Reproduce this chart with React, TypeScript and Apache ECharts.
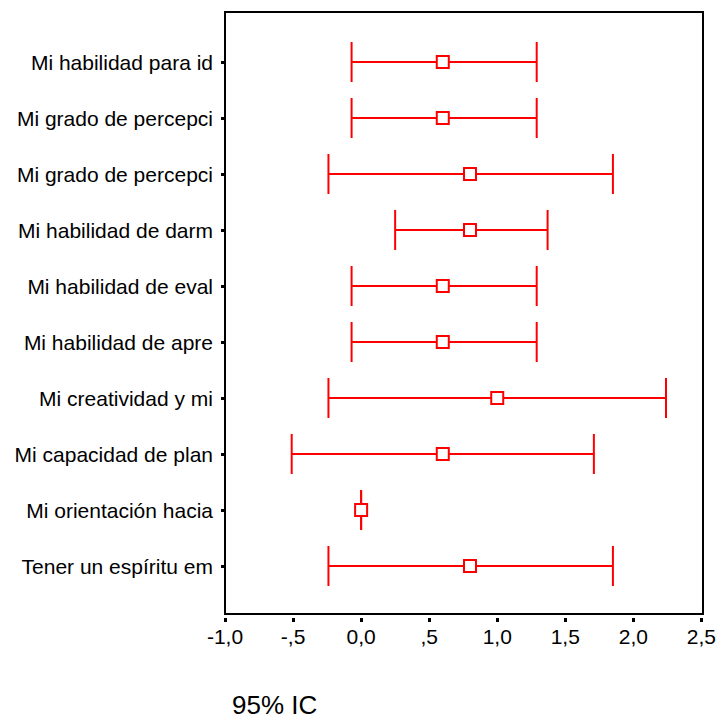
import React, { useEffect, useRef } from "react";
import * as echarts from "echarts";

const categories = [
  "Mi habilidad para id",
  "Mi grado de percepci",
  "Mi grado de percepci",
  "Mi habilidad de darm",
  "Mi habilidad de eval",
  "Mi habilidad de apre",
  "Mi creatividad y mi",
  "Mi capacidad de plan",
  "Mi orientación hacia",
  "Tener un espíritu em",
];
const lowValues = [-0.07, -0.07, -0.24, 0.25, -0.07, -0.07, -0.24, -0.51, 0.0, -0.24];
const meanValues = [0.6, 0.6, 0.8, 0.8, 0.6, 0.6, 1.0, 0.6, 0.0, 0.8];
const highValues = [1.29, 1.29, 1.85, 1.37, 1.29, 1.29, 2.24, 1.71, 0.0, 1.85];
const xTickValues = [-1, -0.5, 0, 0.5, 1, 1.5, 2, 2.5];
const xTickLabels = ["-1,0", "-,5", "0,0", ",5", "1,0", "1,5", "2,0", "2,5"];
const titleText = "95% IC";

const FONT = "'Liberation Sans', Arial, sans-serif";

export default function App() {
  const ref = useRef<HTMLDivElement>(null);
  useEffect(() => {
    if (!ref.current) return;
    const chart = echarts.init(ref.current, undefined, { renderer: "svg" });
    const data = categories.map((_, i) => [i, lowValues[i], meanValues[i], highValues[i]]);
    const red = "#ff0000";
    chart.setOption({
      animation: false,
      backgroundColor: "#ffffff",
      title: {
        text: titleText,
        left: 227,
        top: 687,
        textStyle: { fontFamily: FONT, fontSize: 26, fontWeight: "normal", color: "#000" },
      },
      grid: { left: 225, right: 16, top: 34, bottom: 125, containLabel: false },
      xAxis: {
        type: "value",
        min: -1,
        max: 2.5,
        interval: 0.5,
        offset: 24,
        splitLine: { show: false },
        axisLine: { show: false, onZero: false },
        axisTick: { show: true, length: 4, lineStyle: { color: "#000", width: 3 } },
        axisLabel: {
          margin: 8,
          fontFamily: FONT,
          fontSize: 21,
          color: "#000",
          formatter: (v: number) => {
            const idx = xTickValues.findIndex((t) => Math.abs(t - v) < 1e-6);
            return idx >= 0 ? xTickLabels[idx] : "";
          },
        },
      },
      yAxis: {
        type: "category",
        data: categories,
        inverse: true,
        boundaryGap: true,
        axisLine: { show: false, onZero: false },
        axisTick: { show: true, alignWithLabel: true, length: 4, lineStyle: { color: "#000", width: 3 } },
        axisLabel: { margin: 12, fontFamily: FONT, fontSize: 21, color: "#000" },
        splitLine: { show: false },
      },
      graphic: [
        {
          type: "rect",
          shape: { x: 225, y: 12, width: 478, height: 602 },
          style: { fill: "none", stroke: "#000", lineWidth: 2 },
          z: 10,
        },
      ],
      series: [
        {
          type: "custom",
          data,
          encode: { x: [1, 2, 3], y: 0 },
          renderItem: (params: any, api: any) => {
            const cat = api.value(0);
            const lo = api.coord([api.value(1), cat]);
            const mid = api.coord([api.value(2), cat]);
            const hi = api.coord([api.value(3), cat]);
            const cap = 20;
            const s = 6;
            const ls = { stroke: red, lineWidth: 2 };
            return {
              type: "group",
              children: [
                { type: "line", shape: { x1: lo[0], y1: lo[1], x2: hi[0], y2: hi[1] }, style: ls },
                { type: "line", shape: { x1: lo[0], y1: lo[1] - cap, x2: lo[0], y2: lo[1] + cap }, style: ls },
                { type: "line", shape: { x1: hi[0], y1: hi[1] - cap, x2: hi[0], y2: hi[1] + cap }, style: ls },
                {
                  type: "rect",
                  shape: { x: mid[0] - s, y: mid[1] - s, width: 2 * s, height: 2 * s },
                  style: { fill: "#fff", stroke: red, lineWidth: 2 },
                },
              ],
            };
          },
        },
      ],
    });
    return () => chart.dispose();
  }, []);
  return (
    <div
      ref={ref}
      style={{ position: "fixed", left: 0, top: 0, width: 719, height: 719 }}
    />
  );
}
